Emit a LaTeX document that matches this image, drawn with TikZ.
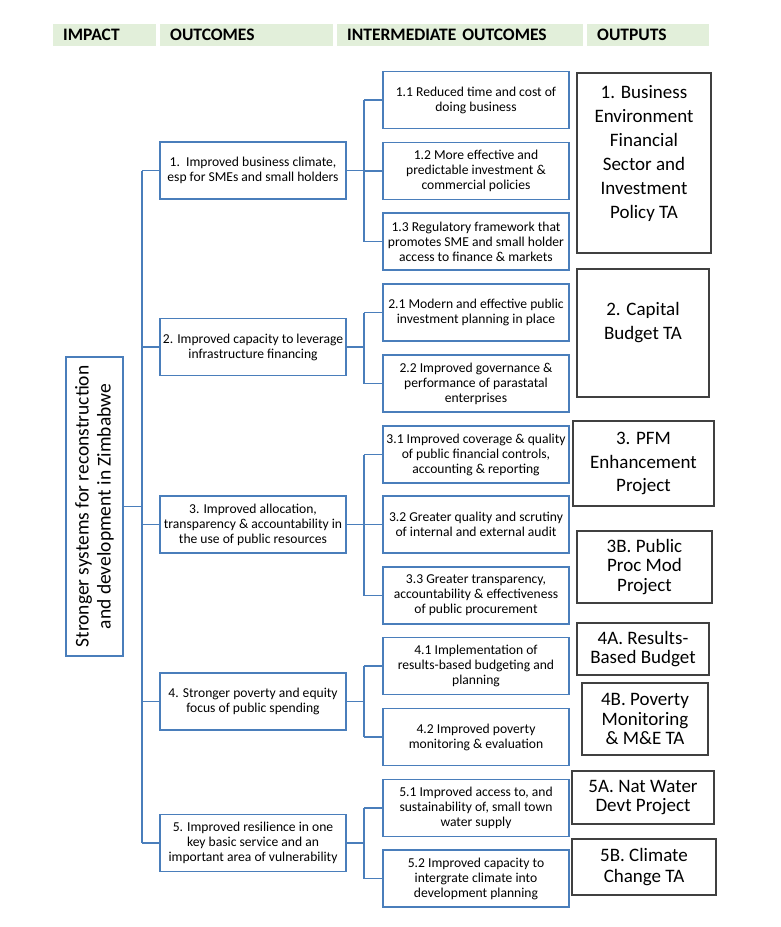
\documentclass[tikz,border=0pt]{standalone}
\usepackage{fontspec}
\setmainfont{Carlito}
\definecolor{lineblue}{HTML}{4A7EBB}
\definecolor{outgray}{HTML}{404040}
\definecolor{hdrgreen}{HTML}{E2EFDA}
\newcommand\myfs[2]{\fontsize{#1}{#2}\selectfont}
\begin{document}
\begin{tikzpicture}[x=1pt,y=-1pt,
  conn/.style={draw=lineblue, line width=1.8pt},
  hdr/.style={fill=hdrgreen, draw=none, anchor=north west, minimum height=22, inner ysep=0, inner xsep=10, align=left, font=\bfseries\myfs{17.5}{20}},
  bbox/.style={draw=lineblue, line width=1.8pt, minimum width=186, minimum height=57, inner sep=0, align=center, font=\myfs{13.6}{15}},
  obox/.style={draw=outgray, line width=1.4pt, inner sep=0, align=center, font=\myfs{19}{19.5}},
  otext/.style={inner sep=0, align=center, font=\myfs{19}{24}}
]
\useasboundingbox (0,0) rectangle (780,927);

% headers
\node[hdr, text width=83] (h1) at (53,24) {IMPACT};
\node[hdr, text width=153] (h2) at (160,24) {OUTCOMES};
\node[hdr, text width=226] (h3) at (337,24) {INTERMEDIATE OUTCOMES};
\node[hdr, text width=102] (h4) at (587,24) {OUTPUTS};

% impact
\node[draw=lineblue, line width=1.8pt, rotate=90, minimum width=299, minimum height=57, inner sep=0, align=center, font=\myfs{19.5}{22}] (imp) at (94.5,506.5)
  {Stronger systems for reconstruction\\and development in Zimbabwe};

% outcomes
\node[bbox] (oc1) at (253,170.5) {1.\ \ Improved business climate,\\esp for SMEs and small holders};
\node[bbox] (oc2) at (253,347) {2. Improved capacity to leverage\\infrastructure financing};
\node[bbox] (oc3) at (253,524.5) {3. Improved allocation,\\transparency \& accountability in\\the use of public resources};
\node[bbox] (oc4) at (253,701.5) {4. Stronger poverty and equity\\focus of public spending};
\node[bbox] (oc5) at (253,843) {5. Improved resilience in one\\key basic service and an\\important area of vulnerability};

% intermediate outcomes
\node[bbox] (i11) at (476,100) {1.1 Reduced time and cost of\\doing business};
\node[bbox] (i12) at (476,171) {1.2 More effective and\\predictable investment \&\\commercial policies};
\node[bbox] (i13) at (476,241.5) {1.3 Regulatory framework that\\promotes SME and small holder\\access to finance \& markets};
\node[bbox] (i21) at (476,312.5) {2.1 Modern and effective public\\investment planning in place};
\node[bbox] (i22) at (476,383.5) {2.2 Improved governance \&\\performance of parastatal\\enterprises};
\node[bbox] (i31) at (476,454.5) {3.1 Improved coverage \& quality\\of public financial controls,\\accounting \& reporting};
\node[bbox] (i32) at (476,524.5) {3.2 Greater quality and scrutiny\\of internal and external audit};
\node[bbox] (i33) at (476,595.5) {3.3 Greater transparency,\\accountability \& effectiveness\\of public procurement};
\node[bbox] (i41) at (476,666) {4.1 Implementation of\\results-based budgeting and\\planning};
\node[bbox] (i42) at (476,737) {4.2 Improved poverty\\monitoring \& evaluation};
\node[bbox] (i51) at (476,808) {5.1 Improved access to, and\\sustainability of, small town\\water supply};
\node[bbox] (i52) at (476,878.5) {5.2 Improved capacity to\\intergrate climate into\\development planning};

% outputs
\node[obox, minimum width=134, minimum height=180] (p1) at (644,163) {};
\node[otext] (p1t) at (644,153.5) {1. Business\\Environment\\Financial\\Sector and\\Investment\\Policy TA};
\node[obox, minimum width=132, minimum height=128] (p2) at (643,333) {};
\node[otext] (p2t) at (643,323) {2. Capital\\Budget TA};
\node[obox, minimum width=141, minimum height=85, font=\myfs{19}{23.5}] (p3) at (643.5,463.5) {3. PFM\\Enhancement\\Project};
\node[obox, minimum width=135, minimum height=72] (p3b) at (644.5,567) {3B. Public\\Proc Mod\\Project};
\node[obox, minimum width=132, minimum height=52] (p4a) at (643,649) {4A. Results-\\Based Budget};
\node[obox, minimum width=126, minimum height=72] (p4b) at (645,719) {4B. Poverty\\Monitoring\\\& M\&E TA};
\node[obox, minimum width=142, minimum height=53] (p5a) at (643,797.5) {5A. Nat Water\\Devt Project};
\node[obox, minimum width=144, minimum height=56, font=\myfs{19}{21}] (p5b) at (644,867) {5B. Climate\\Change TA};

% connectors: impact -> outcomes
\coordinate (tr) at (142,0);
\coordinate (br) at (364,0);
\draw[conn] (imp.south) -- (imp.south -| tr);
\draw[conn] (tr |- oc1.west) -- (tr |- oc5.west);
\foreach \o in {oc1,oc2,oc3,oc4,oc5}{
  \draw[conn] (tr |- \o.west) -- (\o.west);
}
% outcomes -> intermediate outcomes
\foreach \o/\a/\b in {oc1/i11/i13, oc2/i21/i22, oc3/i31/i33, oc4/i41/i42, oc5/i51/i52}{
  \draw[conn] (\o.east) -- (br |- \o.east);
  \draw[conn] (br |- \a.west) -- (br |- \b.west);
}
\foreach \i in {i11,i12,i13,i21,i22,i31,i32,i33,i41,i42,i51,i52}{
  \draw[conn] (br |- \i.west) -- (\i.west);
}
\end{tikzpicture}
\end{document}
